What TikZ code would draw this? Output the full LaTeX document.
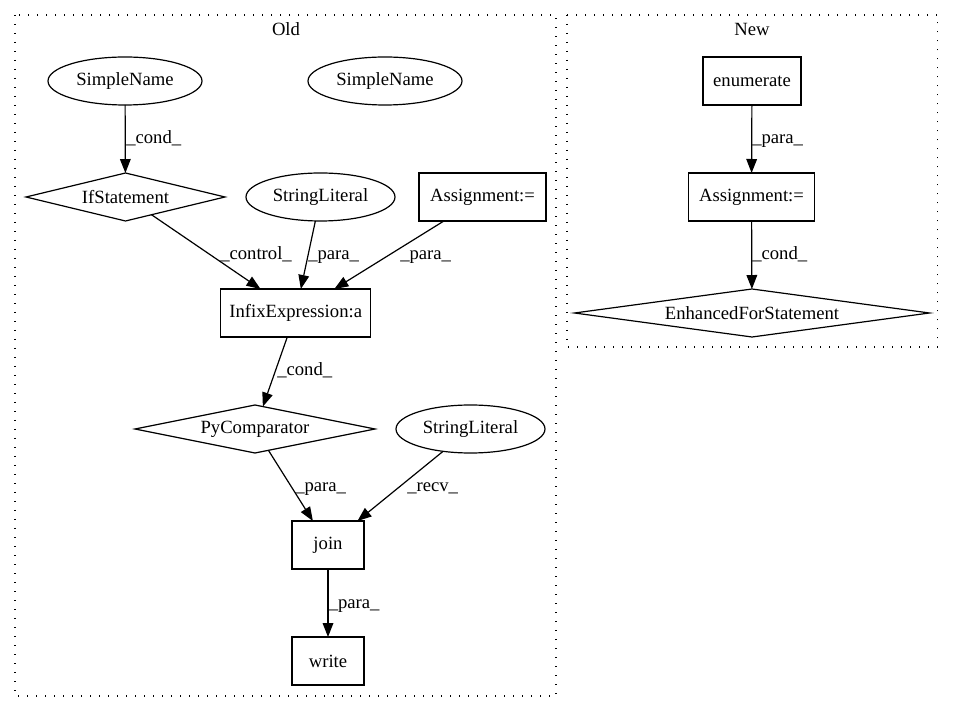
\documentclass[tikz,border=0pt]{standalone}
\usepackage{fontspec}
\setmainfont{Liberation Serif}
\usetikzlibrary{shapes.geometric,arrows.meta}
\begin{document}
\begin{tikzpicture}[x=0.75pt,y=-0.75pt,
  every node/.style={font=\fontsize{14}{16.8}\selectfont},
  ell/.style={draw,ellipse,inner sep=0pt,outer sep=0pt,minimum height=36pt,line width=0.9pt},
  box/.style={draw,rectangle,inner sep=0pt,outer sep=0pt,minimum height=36pt,line width=0.9pt},
  dia/.style={draw,diamond,inner sep=0pt,outer sep=0pt,minimum height=36pt,line width=0.9pt},
  edge/.style={-{Triangle[length=10.5pt,width=8pt]},line width=0.9pt},
  lbl/.style={anchor=base west,inner sep=0pt},
  clus/.style={line width=1pt,dash pattern=on 1pt off 5.75pt},
  ctitle/.style={anchor=base,inner sep=0pt}
]
\useasboundingbox (0,0) rectangle (953,712);
% clusters
\draw[clus] (15,15) rectangle (556,696);
\draw[clus] (567,15) rectangle (937.5,347);
\node[ctitle] (oldt) at (286,36) {Old};
\node[ctitle] (newt) at (752,36) {New};
% Old nodes
\node[ell,minimum width=115.5pt] (sn1) at (125,81) {SimpleName};
\node[ell,minimum width=115.5pt] (sn2) at (385,81) {SimpleName};
\node[dia,minimum width=149.25pt,aspect=4.15] (ifs) at (125.5,197) {IfStatement};
\node[ell,minimum width=111.75pt] (sl1) at (320.5,197) {StringLiteral};
\node[box,minimum width=95.25pt] (asg1) at (482.5,197) {Assignment:=};
\node[box,minimum width=112.5pt] (infix) at (295.7,313) {InfixExpression:a};
\node[dia,minimum width=180pt,aspect=5] (pyc) at (255,429) {PyComparator};
\node[ell,minimum width=111.75pt] (sl2) at (470.5,429) {StringLiteral};
\node[box,minimum width=54pt] (join) at (328,545) {join};
\node[box,minimum width=54pt] (write) at (328,661) {write};
% New nodes
\node[box,minimum width=73.5pt] (enum) at (752,81) {enumerate};
\node[box,minimum width=94.5pt] (asg2) at (751.5,197) {Assignment:=};
\node[dia,minimum width=266.25pt,aspect=7.4] (efs) at (752,313) {EnhancedForStatement};
% edges
\draw[edge] (sn1) -- (ifs);
\draw[edge] (ifs) -- (infix);
\draw[edge] (sl1) -- (infix);
\draw[edge] (asg1) -- (infix);
\draw[edge] (infix) -- (pyc);
\draw[edge] (pyc) -- (join);
\draw[edge] (sl2) -- (join);
\draw[edge] (join) -- (write);
\draw[edge] (enum) -- (asg2);
\draw[edge] (asg2) -- (efs);
% edge labels
\node[lbl] (l1) at (126,144) {\_cond\_};
\node[lbl] (l2) at (220,260) {\_control\_};
\node[lbl] (l3) at (308,260) {\_para\_};
\node[lbl] (l4) at (400,260) {\_para\_};
\node[lbl] (l5) at (277,376) {\_cond\_};
\node[lbl] (l6) at (295,492) {\_para\_};
\node[lbl] (l7) at (407,492) {\_recv\_};
\node[lbl] (l8) at (328.5,608) {\_para\_};
\node[lbl] (l9) at (752,144) {\_para\_};
\node[lbl] (l10) at (752,260) {\_cond\_};
\end{tikzpicture}
\end{document}
